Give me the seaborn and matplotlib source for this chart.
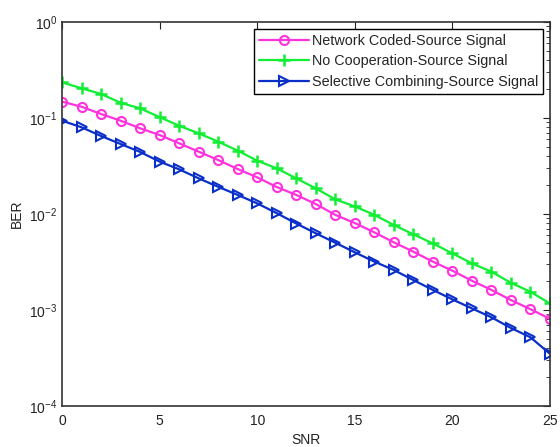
import matplotlib
matplotlib.use('Agg')
import matplotlib.pyplot as plt
import seaborn as sns; sns.set_style('white')
from matplotlib.ticker import LogLocator, NullFormatter
import numpy as np
import pandas as pd

plt.rcParams['font.family'] = ['Liberation Sans', 'DejaVu Sans']
plt.rcParams['mathtext.fontset'] = 'custom'
plt.rcParams['mathtext.rm'] = 'Liberation Sans'
plt.rcParams['mathtext.it'] = 'Liberation Sans'

snr = list(range(26))
network_coded = [0.148, 0.131, 0.110, 0.0937, 0.0781, 0.0665, 0.0545, 0.0446, 0.0365, 0.0294,
                 0.0241, 0.0191, 0.0158, 0.0127, 0.0098, 0.00805, 0.00644, 0.00507, 0.00405, 0.00319,
                 0.00257, 0.00202, 0.00162, 0.00127, 0.00102, 0.00081]
no_coop = [0.235, 0.204, 0.178, 0.144, 0.126, 0.102, 0.083, 0.0693, 0.0567, 0.0457,
           0.0359, 0.0299, 0.0235, 0.0185, 0.0142, 0.0120, 0.0098, 0.00768, 0.00614, 0.00494,
           0.00389, 0.00306, 0.00251, 0.00192, 0.00155, 0.00117]
selective = [0.0937, 0.080, 0.0649, 0.0536, 0.0443, 0.0351, 0.0292, 0.0235, 0.0192, 0.0158,
             0.0129, 0.0102, 0.00796, 0.00630, 0.00502, 0.00399, 0.00319, 0.00261, 0.00205, 0.00162,
             0.00129, 0.00104, 0.00084, 0.00065, 0.00052, 0.00035]

series = [
    ('Network Coded-Source Signal', network_coded, '#ff33dd', 'o'),
    ('No Cooperation-Source Signal', no_coop, '#11ee33', '+'),
    ('Selective Combining-Source Signal', selective, '#0a2fc8', '>'),
]

fig = plt.figure(figsize=(5.6, 4.47), dpi=100)
ax = fig.add_axes([0.111, 0.0917, 0.871, 0.859])

for name, vals, color, mk in series:
    df = pd.DataFrame({'SNR': snr, 'BER': vals})
    if mk == '+':
        sns.lineplot(data=df, x='SNR', y='BER', ax=ax, color=color, lw=1.6,
                     marker=mk, markersize=8, markeredgewidth=1.8, markeredgecolor=color,
                     label=name)
    else:
        sns.lineplot(data=df, x='SNR', y='BER', ax=ax, color=color, lw=1.6,
                     marker=mk, markersize=6.5, markerfacecolor='none', markeredgewidth=1.5,
                     markeredgecolor=color, label=name)

ax.set_yscale('log')
ax.set_xlim(0, 25)
ax.set_ylim(1e-4, 1)
ax.set_xticks([0, 5, 10, 15, 20, 25])
ax.yaxis.set_major_locator(LogLocator(base=10, numticks=10))
ax.yaxis.set_minor_locator(LogLocator(base=10, subs=np.arange(2, 10), numticks=10))
ax.yaxis.set_minor_formatter(NullFormatter())
ax.tick_params(which='both', direction='in', top=True, right=True, labelsize=10, colors='#222222')
ax.tick_params(which='major', length=5)
ax.tick_params(which='minor', length=3)
ax.tick_params(axis='x', pad=6)
for s in ax.spines.values():
    s.set_color('#333333')
    s.set_linewidth(1.2)

ax.set_xlabel('SNR', fontsize=10, color='#222222', labelpad=3)
ax.set_ylabel('BER', fontsize=10, color='#222222')

leg = ax.legend(loc='upper right', fontsize=10.4, fancybox=False, framealpha=1,
                edgecolor='black', borderaxespad=0.45, handlelength=3.5,
                borderpad=0.35, labelspacing=0.45, handletextpad=0.2)
leg.get_frame().set_linewidth(1.0)

fig.savefig('out.png', dpi=100, facecolor='white')
